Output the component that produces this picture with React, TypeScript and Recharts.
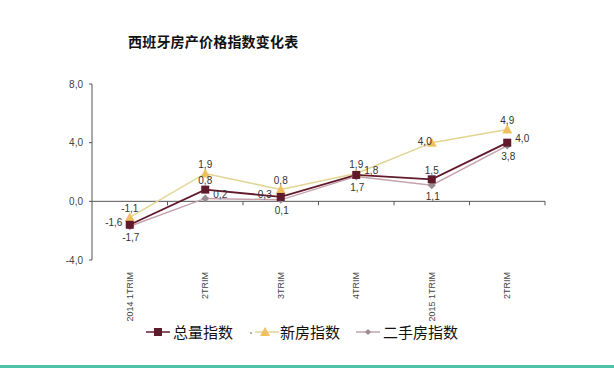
import React from "react";
import {
	LineChart,
	Line,
	XAxis,
	YAxis,
	ReferenceLine,
	LabelList,
	Legend,
} from "recharts";

const categories = ["2014 1TRIM", "2TRIM", "3TRIM", "4TRIM", "2015 1TRIM", "2TRIM"];
const totalIndex = [-1.6, 0.8, 0.3, 1.8, 1.5, 4.0];
const newIndex = [-1.1, 1.9, 0.8, 1.9, 4.0, 4.9];
const usedIndex = [-1.7, 0.2, 0.1, 1.7, 1.1, 3.8];
const yTicks = [-4, 0, 4, 8];

// label placement for each point (style only)
const totalPos = ["left", "top", "left", "right", "top", "right"];
const newPos = ["top", "top", "top", "top", "over", "top"];
const usedPos = ["bottom", "right", "bottom", "bottom", "bottom", "bottom"];

const C_TOTAL = "#61192c";
const C_NEW_LINE = "#e2d592";
const C_NEW_DOT = "#f0c060";
const C_USED_LINE = "#c4a3ad";
const C_USED_DOT = "#9a8a92";

const data = categories.map((c, i) => ({
	pos: i + 0.5,
	cat: c,
	total: totalIndex[i],
	nw: newIndex[i],
	used: usedIndex[i],
}));

const fmt = (v: number) => v.toFixed(1).replace(".", ",");

const offsets: Record<string, [number, number]> = {
	top: [0, -9],
	bottom: [1, 11],
	left: [-16, -2],
	right: [15, -4],
	over: [-7, -1],
};

const makeLabel = (pos: string[]) => (props: any) => {
	const { x, y, value, index } = props;
	const [dx, dy] = offsets[pos[index]] || [0, -9];
	return (
		<text
			x={x + dx}
			y={y + dy}
			textAnchor='middle'
			dominantBaseline='central'
			fontSize={10}
			fill='#333'
			fontFamily='Liberation Sans, Arial, sans-serif'>
			{fmt(value)}
		</text>
	);
};

const SquareDot = (props: any) => {
	const { cx, cy } = props;
	return <rect x={cx - 4} y={cy - 4} width={8} height={8} fill={C_TOTAL} />;
};
const TriDot = (props: any) => {
	const { cx, cy } = props;
	return (
		<polygon
			points={`${cx},${cy - 5} ${cx + 5},${cy + 4} ${cx - 5},${cy + 4}`}
			fill={C_NEW_DOT}
		/>
	);
};
const DiamondDot = (props: any) => {
	const { cx, cy } = props;
	return (
		<polygon
			points={`${cx},${cy - 4} ${cx + 4},${cy} ${cx},${cy + 4} ${cx - 4},${cy}`}
			fill={C_USED_DOT}
		/>
	);
};

const XTick = (props: any) => {
	const { x, y, payload } = props;
	const label = categories[Math.floor(payload.value)];
	return (
		<text
			transform={`translate(${x},${y + 4}) rotate(-90)`}
			textAnchor='end'
			dy='0.35em'
			fontSize={9}
			fill='#444'
			fontFamily='Liberation Sans, Arial, sans-serif'>
			{label}
		</text>
	);
};

const LegendContent = () => {
	const item = (lineColor: string, marker: React.ReactNode, text: string, dotBefore?: boolean) => (
		<div style={{ display: "flex", alignItems: "center", marginRight: 16 }}>
			<svg width={dotBefore ? 30 : 26} height={14}>
				{dotBefore && <circle cx={2} cy={8} r={1} fill='#999' />}
				<line x1={dotBefore ? 6 : 0} y1={7} x2={dotBefore ? 30 : 24} y2={7} stroke={lineColor} strokeWidth={1.5} />
				<g transform={`translate(${dotBefore ? 16 : 12},7)`}>{marker}</g>
			</svg>
			<span style={{ color: "#111", fontSize: 15, marginLeft: 1 }}>{text}</span>
		</div>
	);
	return (
		<div
			style={{
				display: "flex",
				alignItems: "center",
				fontFamily: "Noto Sans CJK SC, sans-serif",
			}}>
			{item(C_TOTAL, <rect x={-4} y={-4} width={8} height={8} fill={C_TOTAL} />, "总量指数")}
			{item(C_NEW_LINE, <polygon points='0,-5 5,4 -5,4' fill={C_NEW_DOT} />, "新房指数", true)}
			{item(C_USED_LINE, <polygon points='0,-3 3,0 0,3 -3,0' fill={C_USED_DOT} />, "二手房指数")}
		</div>
	);
};

export default function App() {
	return (
		<div
			style={{
				position: "absolute",
				left: 0,
				top: 0,
				width: 614,
				height: 368,
				background: "#fff",
				overflow: "hidden",
			}}>
			<div
				style={{
					position: "absolute",
					left: 128,
					top: 31,
					fontSize: 14,
					fontWeight: "bold",
					color: "#111",
					fontFamily: "Noto Sans CJK SC, sans-serif",
					letterSpacing: 0.2,
				}}>
				西班牙房产价格指数变化表
			</div>
			<LineChart
				width={614}
				height={368}
				data={data}
				margin={{ top: 84, right: 69, left: 0, bottom: 48 }}>
				<XAxis
					dataKey='pos'
					type='number'
					domain={[0, 6]}
					ticks={[0.5, 1.5, 2.5, 3.5, 4.5, 5.5]}
					tick={<XTick />}
					tickLine={false}
					axisLine={false}
					height={60}
					interval={0}
				/>
				<YAxis
					domain={[-4, 8]}
					ticks={yTicks}
					tickFormatter={fmt}
					width={92}
					tickSize={3}
					tickMargin={6}
					stroke='#555'
					tick={{ fontSize: 10, fill: "#444", fontFamily: "Liberation Sans, Arial, sans-serif" }}
				/>
				<ReferenceLine y={0} stroke='#555' strokeWidth={1} />
				{[1, 2, 3, 4, 5, 6].map((k) => (
					<ReferenceLine
						key={k}
						segment={[
							{ x: k, y: 0 },
							{ x: k, y: -0.27 },
						]}
						stroke='#555'
					/>
				))}
				<Legend
					layout='horizontal'
					verticalAlign='middle'
					align='center'
					content={<LegendContent />}
					wrapperStyle={{ left: 146, top: 321, width: 360, height: 20 }}
				/>
				<Line
					dataKey='used'
					stroke={C_USED_LINE}
					strokeWidth={1.5}
					dot={<DiamondDot />}
					isAnimationActive={false}>
					<LabelList dataKey='used' content={makeLabel(usedPos)} />
				</Line>
				<Line
					dataKey='nw'
					stroke={C_NEW_LINE}
					strokeWidth={1.5}
					dot={<TriDot />}
					isAnimationActive={false}>
					<LabelList dataKey='nw' content={makeLabel(newPos)} />
				</Line>
				<Line
					dataKey='total'
					stroke={C_TOTAL}
					strokeWidth={1.8}
					dot={<SquareDot />}
					isAnimationActive={false}>
					<LabelList dataKey='total' content={makeLabel(totalPos)} />
				</Line>
			</LineChart>
			<div
				style={{
					position: "absolute",
					left: 0,
					top: 365,
					width: 614,
					height: 3,
					background: "#4cc3a8",
				}}
			/>
		</div>
	);
}
